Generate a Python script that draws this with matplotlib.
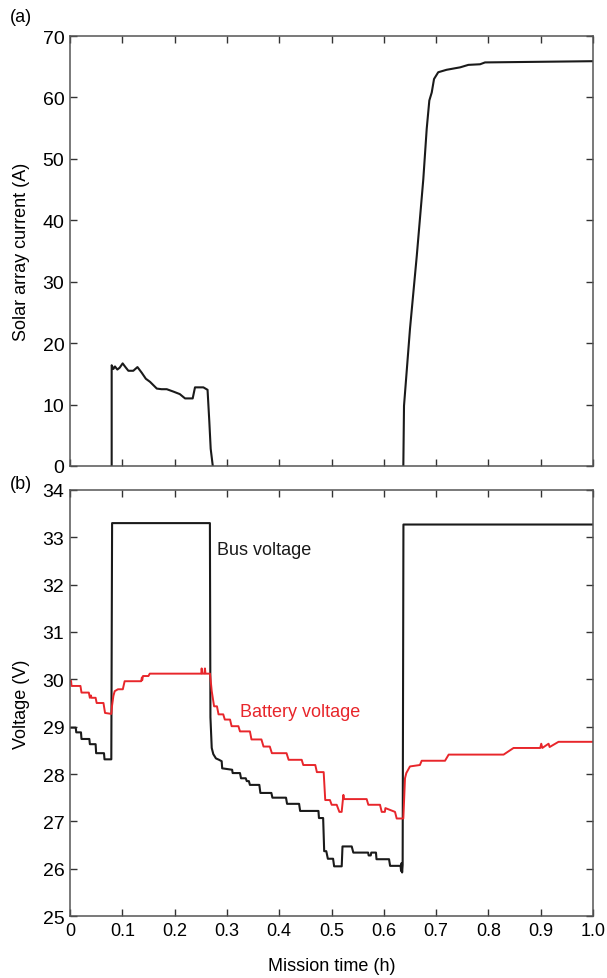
import numpy as np
import matplotlib
matplotlib.use("Agg")
import matplotlib.pyplot as plt

plt.rcParams['font.family'] = ['Liberation Sans', 'DejaVu Sans']
plt.rcParams['font.size'] = 13

# (a) solar array current
cur_t = [0.0797, 0.0797, 0.083, 0.086, 0.0905, 0.095, 0.1007, 0.106, 0.1116, 0.121,
         0.129, 0.137, 0.145, 0.153, 0.166, 0.175, 0.185, 0.198, 0.210, 0.220,
         0.2346, 0.239, 0.255, 0.263, 0.2664, 0.269, 0.273, np.nan,
         0.6373, 0.6386, 0.650, 0.663, 0.6755, 0.682, 0.687, 0.6916, 0.696,
         0.704, 0.720, 0.733, 0.746, 0.7616, 0.784, 0.7935, 1.0]
cur_a = [0, 16.4, 15.8, 16.2, 15.7, 16.0, 16.7, 16.1, 15.5, 15.5,
         16.1, 15.2, 14.2, 13.7, 12.6, 12.5, 12.5, 12.1, 11.7, 11.0,
         11.0, 12.8, 12.8, 12.4, 7.2, 2.8, 0, np.nan,
         0, 9.8, 22.3, 34.2, 46.7, 54.9, 59.5, 60.8, 63.0,
         64.1, 64.5, 64.7, 64.9, 65.3, 65.4, 65.7, 65.9]

# (b) bus voltage
bus_t = [0.0, 0.011, 0.012, 0.021, 0.022, 0.037, 0.038, 0.049, 0.050, 0.065,
         0.066, 0.079, 0.0805, 0.2675, 0.2685, 0.271, 0.274, 0.279, 0.285, 0.290,
         0.291, 0.310, 0.311, 0.325, 0.327, 0.336, 0.338, 0.342, 0.344, 0.362,
         0.364, 0.385, 0.387, 0.413, 0.415, 0.438, 0.440, 0.475, 0.476, 0.484,
         0.486, 0.490, 0.493, 0.503, 0.505, 0.5195, 0.521, 0.5386, 0.5417, 0.570,
         0.571, 0.575, 0.576, 0.585, 0.586, 0.610, 0.612, 0.632, 0.633, 0.634,
         0.635, 0.636, 0.6375, 1.0]
bus_v = [28.98, 28.98, 28.88, 28.88, 28.74, 28.74, 28.63, 28.63, 28.44, 28.44,
         28.31, 28.31, 33.30, 33.30, 29.2, 28.55, 28.42, 28.33, 28.30, 28.27,
         28.12, 28.09, 28.02, 28.02, 27.91, 27.91, 27.85, 27.85, 27.77, 27.77,
         27.60, 27.60, 27.50, 27.50, 27.37, 27.37, 27.22, 27.22, 27.07, 27.07,
         26.37, 26.37, 26.21, 26.21, 26.05, 26.05, 26.47, 26.47, 26.34, 26.34,
         26.28, 26.28, 26.34, 26.34, 26.20, 26.20, 26.06, 26.06, 25.95, 26.12,
         25.92, 26.08, 33.27, 33.27]

# (b) battery voltage
bat_t = [0.0, 0.002, 0.003, 0.020, 0.022, 0.036, 0.038, 0.040, 0.041, 0.049,
         0.051, 0.064, 0.067, 0.079, 0.0805, 0.083, 0.0855, 0.0917, 0.101, 0.1045,
         0.136, 0.1375, 0.138, 0.1396, 0.150, 0.1525, 0.251, 0.2517, 0.253, 0.257,
         0.258, 0.259, 0.2677, 0.271, 0.2755, 0.281, 0.284, 0.293, 0.296, 0.306,
         0.309, 0.322, 0.325, 0.344, 0.347, 0.366, 0.370, 0.382, 0.386, 0.414,
         0.418, 0.443, 0.446, 0.469, 0.472, 0.485, 0.488, 0.497, 0.5003, 0.5099,
         0.515, 0.5194, 0.5227, 0.524, 0.5672, 0.5704, 0.5927, 0.596, 0.602, 0.603,
         0.6214, 0.6246, 0.6373, 0.6405, 0.643, 0.650, 0.669, 0.6724, 0.717, 0.724,
         0.829, 0.848, 0.899, 0.901, 0.903, 0.915, 0.917, 0.934, 1.0]
bat_v = [29.97, 29.97, 29.86, 29.86, 29.72, 29.72, 29.61, 29.66, 29.61, 29.61,
         29.50, 29.50, 29.29, 29.27, 29.45, 29.65, 29.75, 29.79, 29.79, 29.96,
         29.96, 30.04, 29.98, 30.07, 30.07, 30.12, 30.12, 30.23, 30.12, 30.12,
         30.23, 30.12, 30.12, 29.75, 29.43, 29.43, 29.26, 29.26, 29.15, 29.15,
         29.01, 29.01, 28.90, 28.90, 28.73, 28.73, 28.58, 28.58, 28.44, 28.44,
         28.30, 28.30, 28.19, 28.19, 28.04, 28.04, 27.45, 27.45, 27.35, 27.35,
         27.20, 27.20, 27.56, 27.47, 27.47, 27.35, 27.35, 27.20, 27.20, 27.28,
         27.20, 27.06, 27.06, 27.91, 28.02, 28.16, 28.19, 28.28, 28.28, 28.41,
         28.41, 28.55, 28.55, 28.64, 28.55, 28.64, 28.57, 28.68, 28.68]

x_ticks = [0, 0.1, 0.2, 0.3, 0.4, 0.5, 0.6, 0.7, 0.8, 0.9, 1.0]
x_tick_labels = ['0', '0.1', '0.2', '0.3', '0.4', '0.5', '0.6', '0.7', '0.8', '0.9', '1.0']

fig = plt.figure(figsize=(6.07, 9.79), dpi=100)
ax1 = fig.add_axes([0.1153, 0.523, 0.8617, 0.4392])
ax2 = fig.add_axes([0.1153, 0.0633, 0.8617, 0.4352])

red = '#e8262b'

ax1.plot(cur_t, cur_a, color='#1a1a1a', lw=1.5)
ax1.set_xlim(0, 1)
ax1.set_ylim(0, 70)
ax1.set_yticks(range(0, 71, 10))
ax1.set_xticks(x_ticks)
ax1.set_xticklabels([])
ax1.set_ylabel('Solar array current (A)')
ax1.yaxis.set_label_coords(-0.076, 0.5)

ax2.plot(bus_t, bus_v, color='#1a1a1a', lw=1.5)
ax2.plot(bat_t, bat_v, color=red, lw=1.4)
ax2.set_xlim(0, 1)
ax2.set_ylim(25, 34)
ax2.set_yticks(range(25, 35))
ax2.set_xticks(x_ticks)
ax2.set_xticklabels(x_tick_labels)
ax2.set_ylabel('Voltage (V)')
ax2.yaxis.set_label_coords(-0.076, 0.5)
ax2.set_xlabel('Mission time (h)')
ax2.xaxis.set_label_coords(0.5, -0.097)
ax2.text(0.281, 32.75, 'Bus voltage', color='#1a1a1a', va='center', ha='left')
ax2.text(0.325, 29.31, 'Battery voltage', color=red, va='center', ha='left')

for ax in (ax1, ax2):
    ax.tick_params(direction='in', length=5, width=1, top=True, right=True,
                   color='#333333', labelsize=13, pad=4)
    ax.tick_params(axis='y', labelsize=14)
    for s in ax.spines.values():
        s.set_color('#555555')
        s.set_linewidth(1.1)

fig.text(10 / 607, 1 - 18 / 979, '(a)', fontsize=13, va='center', ha='left')
fig.text(10 / 607, 1 - 485 / 979, '(b)', fontsize=13, va='center', ha='left')

fig.savefig('out.png', dpi=100)
